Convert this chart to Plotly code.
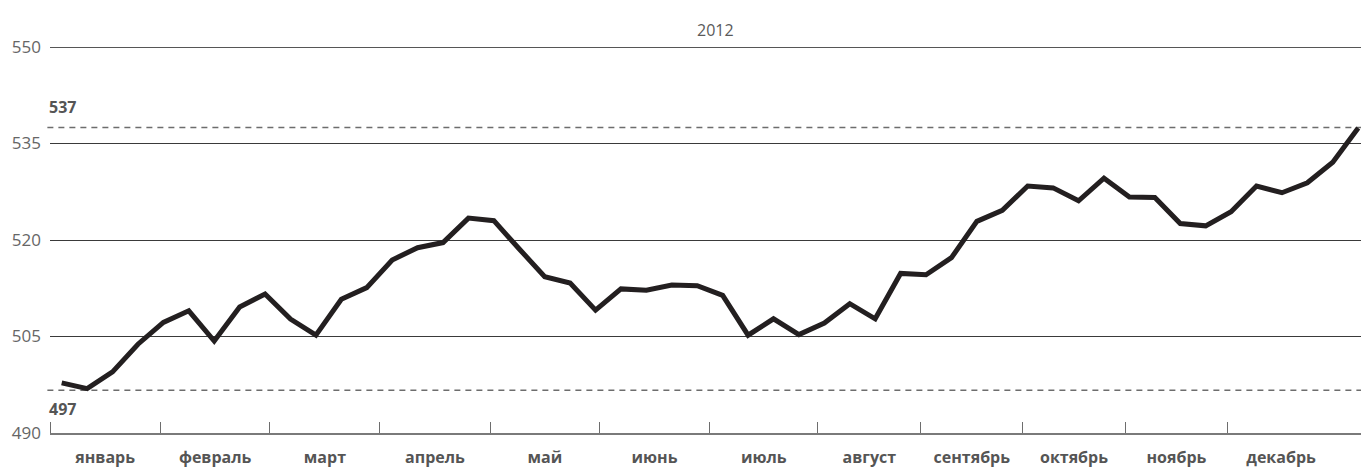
import plotly.graph_objects as go

# Weekly values, 2012
WEEKS = list(range(52))
VALUES = [497.8, 496.9, 499.5, 503.8, 507.2, 509.0, 504.3, 509.6, 511.6, 507.7,
          505.2, 510.8, 512.6, 516.9, 518.8, 519.6, 523.4, 523.0, 518.6, 514.3,
          513.3, 509.1, 512.4, 512.2, 513.0, 512.9, 511.4, 505.2, 507.75, 505.3,
          507.1, 510.1, 507.75, 514.8, 514.6, 517.25, 522.9, 524.6, 528.4, 528.1,
          526.1, 529.6, 526.7, 526.6, 522.55, 522.2, 524.4, 528.4, 527.35, 528.9,
          532.1, 537.4]

MONTHS = ["январь", "февраль", "март", "апрель", "май", "июнь", "июль",
          "август", "сентябрь", "октябрь", "ноябрь", "декабрь"]
# month boundaries in week units (start of each month), plus end of december
MONTH_BOUNDS = [-0.46, 3.88, 8.19, 12.52, 16.85, 21.16, 25.48, 29.75,
                33.79, 37.81, 41.83, 45.87, 50.06]

Y_TICKS = [490, 505, 520, 535, 550]
LOW_LEVEL, LOW_LABEL = 496.65, "497"
HIGH_LEVEL, HIGH_LABEL = 537.5, "537"
TITLE = "2012"

FONT = "Open Sans, DejaVu Sans, sans-serif"

label_pos = [(MONTH_BOUNDS[i] + MONTH_BOUNDS[i + 1]) / 2 for i in range(len(MONTHS))]

fig = go.Figure()
fig.add_trace(go.Scatter(
    x=WEEKS, y=VALUES, mode="lines",
    line=dict(color="#231f20", width=5),
    hoverinfo="skip", showlegend=False,
))

# top gridline (at the range edge)
fig.add_shape(type="line", xref="paper", yref="y", x0=0, x1=1,
              y0=Y_TICKS[-1], y1=Y_TICKS[-1], line=dict(color="#1e1e1e", width=1.3),
              layer="below")

for lvl in (LOW_LEVEL, HIGH_LEVEL):
    fig.add_shape(type="line", xref="paper", yref="y", x0=-0.002, x1=1,
                  y0=lvl, y1=lvl, line=dict(color="#6d6d6d", width=1.5, dash="6px,5px"),
                  layer="below")

fig.add_annotation(x=0, xref="paper", y=HIGH_LEVEL, yref="y", text="<b>" + HIGH_LABEL + "</b>",
                   showarrow=False, xanchor="left", yanchor="middle", yshift=20, xshift=-3,
                   font=dict(family=FONT, size=16, color="#555555"))
fig.add_annotation(x=0, xref="paper", y=LOW_LEVEL, yref="y", text="<b>" + LOW_LABEL + "</b>",
                   showarrow=False, xanchor="left", yanchor="middle", yshift=-19, xshift=-3,
                   font=dict(family=FONT, size=16, color="#555555"))
fig.add_annotation(x=0.508, xref="paper", y=1, yref="paper", yanchor="middle", yshift=17,
                   text=TITLE, showarrow=False,
                   font=dict(family=FONT, size=16, color="#5a5a5a"))

fig.update_layout(
    width=1361, height=468,
    margin=dict(l=50, r=0, t=47, b=33),
    paper_bgcolor="white", plot_bgcolor="white",
    showlegend=False,
    xaxis=dict(
        range=[-0.46, 51.11], showgrid=False, zeroline=False,
        showline=True, linecolor="#7a7a7a", linewidth=1.5,
        tickmode="array", tickvals=label_pos, ticktext=MONTHS, ticks="",
        ticklabelstandoff=9,
        tickfont=dict(family=FONT, size=16, color="#555555", weight="bold"),
        minor=dict(tickmode="array", tickvals=MONTH_BOUNDS[:-1], ticks="inside",
                   ticklen=11, tickwidth=1.2, tickcolor="#6d6d6d", showgrid=False),
    ),
    yaxis=dict(
        range=[490, 550], tickmode="array", tickvals=Y_TICKS,
        showgrid=True, gridcolor="#3a3a3a", gridwidth=1, zeroline=False,
        showline=False, ticks="", ticklabelstandoff=8,
        tickfont=dict(family=FONT, size=17, color="#666666"),
    ),
)

fig.write_html("out.html")
